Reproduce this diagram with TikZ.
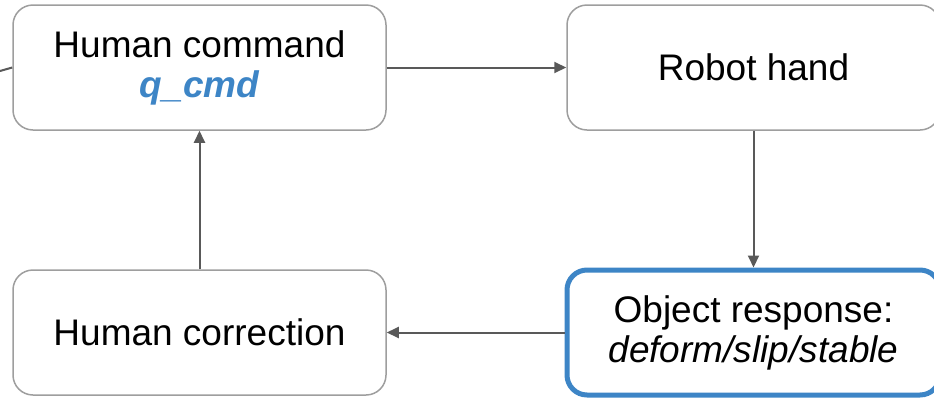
\documentclass[tikz,border=0pt]{standalone}
\usepackage{fontspec}
\setmainfont{Liberation Sans}
\usetikzlibrary{arrows.meta}
\definecolor{boxgray}{HTML}{9E9E9E}
\definecolor{arrgray}{HTML}{595959}
\definecolor{gblue}{HTML}{3D85C6}
\tikzset{
  box/.style={draw=boxgray, line width=1.5pt, rounded corners=20pt, fill=white,
    minimum width=373pt, minimum height=125pt, inner sep=0pt, align=center,
    font=\fontsize{37}{40}\selectfont},
  bluebox/.style={box, draw=gblue, line width=5pt},
  conn/.style={draw=arrgray, line width=2pt, -{Triangle[length=12pt,width=11pt]}},
}
\begin{document}
\begin{tikzpicture}[x=1pt,y=-1pt]
\useasboundingbox (0,0) rectangle (934,397);
\clip (0,0) rectangle (934,397);
\node[box] (cmd) at (199.5,67.5) {Human command\\\textcolor{gblue}{\bfseries\itshape q\_cmd}};
\node[box] (hand) at (753.5,67.5) {Robot hand};
\node[box] (corr) at (199.5,332.5) {Human correction};
\node[bluebox] (resp) at (753.5,332.5) {Object response:\\\itshape deform/slip/stable};
\coordinate (stub) at (0,71);
\draw[draw=arrgray, line width=2pt] (stub) -- (cmd.west);
\draw[conn] (cmd.east) -- (hand.west);
\draw[conn] (hand.south) -- (resp.north);
\draw[conn] (resp.west) -- (corr.east);
\draw[conn] (corr.north) -- (cmd.south);
\end{tikzpicture}
\end{document}
